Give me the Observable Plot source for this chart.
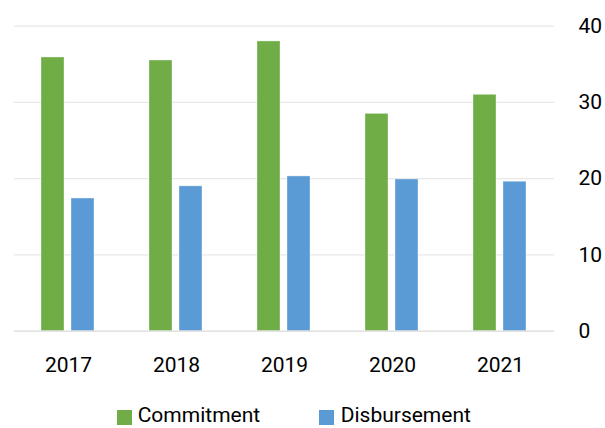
<!DOCTYPE html>
<html>
<head>
<meta charset="utf-8">
<script src="https://cdn.jsdelivr.net/npm/d3@7"></script>
<script src="https://cdn.jsdelivr.net/npm/@observablehq/plot@0.6"></script>
<style>
  html, body { margin: 0; padding: 0; background: #fff; }
  #wrap { position: relative; width: 605px; height: 428px; overflow: hidden; font-family: Roboto, sans-serif; }
  .sw { position: absolute; width: 15px; height: 15px; }
  .lt { position: absolute; font-size: 21px; line-height: 25px; color: #000; white-space: nowrap; }
</style>
</head>
<body>
<div id="wrap"></div>
<script>
const years = ["2017", "2018", "2019", "2020", "2021"];
const commitment = [35.9, 35.5, 38.0, 28.5, 31.0];
const disbursement = [17.4, 19.0, 20.3, 19.9, 19.6];
const series = ["Commitment", "Disbursement"];
const colors = ["#70AD47", "#5B9BD5"];
const yTicks = [0, 10, 20, 30, 40];

const data = years.flatMap((y, i) => [
  {year: y, series: series[0], value: commitment[i]},
  {year: y, series: series[1], value: disbursement[i]}
]);

const chart = Plot.plot({
  width: 605,
  height: 400,
  marginTop: 25.7,
  marginBottom: 69.3,
  marginLeft: 12,
  marginRight: 49,
  style: {fontFamily: "Roboto", fontSize: "21px", color: "#000", background: "#fff"},
  fx: {domain: years, padding: 0, label: null, axis: "bottom", tickSize: 0, tickPadding: 26},
  x: {domain: series, paddingInner: 0.22, paddingOuter: 0.88, axis: null},
  y: {domain: [0, 40], ticks: yTicks, axis: "right", label: null, tickSize: 0, tickPadding: 24},
  color: {domain: series, range: colors},
  marks: [
    Plot.ruleY(yTicks.filter(d => d > 0), {stroke: "#e8e8e8", strokeWidth: 1.2}),
    Plot.barY(data, {fx: "year", x: "series", y: "value", fill: "series", stroke: "#ffffff", strokeOpacity: 0.35, strokeWidth: 1}),
    Plot.ruleY([0], {stroke: "#dadada", strokeWidth: 1.2})
  ]
});

const wrap = document.getElementById("wrap");
wrap.appendChild(chart);

const legendPos = [{sw: 116.7, tx: 137.7}, {sw: 319, tx: 340.7}];
series.forEach((s, i) => {
  const sw = document.createElement("div");
  sw.className = "sw";
  sw.style.left = legendPos[i].sw + "px";
  sw.style.top = "409.5px";
  sw.style.background = colors[i];
  wrap.appendChild(sw);
  const t = document.createElement("div");
  t.className = "lt";
  t.style.left = legendPos[i].tx + "px";
  t.style.top = "402.8px";
  t.textContent = s;
  wrap.appendChild(t);
});
</script>
</body>
</html>
